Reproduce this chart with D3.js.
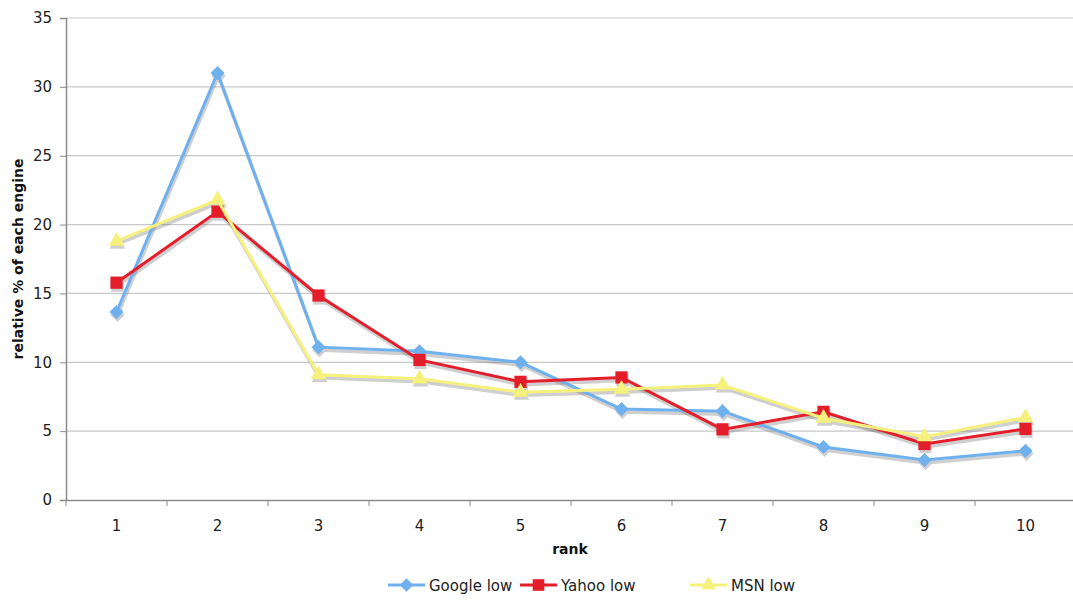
<!DOCTYPE html>
<html><head><meta charset="utf-8">
<script src="https://cdn.jsdelivr.net/npm/d3@7"></script>
<style>body{margin:0;background:#fff;} text{font-family:"DejaVu Sans",Verdana,sans-serif;}</style>
</head><body>
<svg id="c" width="1073" height="601"></svg>
<script>
const ranks = [1,2,3,4,5,6,7,8,9,10];
const googleLow = [13.65, 31.0, 11.1, 10.8, 10.0, 6.6, 6.45, 3.85, 2.9, 3.57];
const yahooLow  = [15.78, 20.94, 14.85, 10.17, 8.58, 8.9, 5.13, 6.4, 4.07, 5.16];
const msnLow    = [18.8, 21.8, 9.1, 8.8, 7.83, 8.05, 8.35, 5.94, 4.6, 6.0];
const yTicks = [0,5,10,15,20,25,30,35];
const seriesNames = ["Google low","Yahoo low","MSN low"];

const svg = d3.select("#c");
const L = 66, R = 1076, T = 18, B = 500;
const x = d3.scaleBand().domain(ranks).range([L, R]);
const y = d3.scaleLinear().domain([0,35]).range([B, T]);

// grid
svg.append("g").selectAll("line").data(yTicks.filter(d=>d>0)).join("line")
  .attr("x1", L).attr("x2", R).attr("y1", d=>y(d)).attr("y2", d=>y(d))
  .attr("stroke", "#c8c8c8").attr("stroke-width", 1.2);

// y axis
const ya = svg.append("g").attr("transform", `translate(${L},0)`)
  .call(d3.axisLeft(y).tickValues(yTicks).tickSize(6).tickPadding(8));
ya.select(".domain").attr("stroke", "#8a8a8a").attr("stroke-width", 1.5);
ya.selectAll(".tick line").attr("stroke", "#8a8a8a");
ya.selectAll("text").attr("font-size", 15).attr("fill", "#222");

// x axis
const xa = svg.append("g").attr("transform", `translate(0,${B})`)
  .call(d3.axisBottom(x).tickSize(0).tickPadding(20));
xa.select(".domain").attr("stroke", "#8a8a8a").attr("stroke-width", 1.5);
xa.selectAll("text").attr("font-size", 15).attr("fill", "#222");
svg.append("g").selectAll("line").data(ranks).join("line")
  .attr("x1", d=>x(d)).attr("x2", d=>x(d)).attr("y1", B).attr("y2", B+6)
  .attr("stroke", "#8a8a8a");

// titles
svg.append("text").attr("x", 570).attr("y", 554).attr("text-anchor","middle")
  .attr("font-size", 14).attr("font-weight","bold").attr("fill","#111").text("rank");
svg.append("text").attr("transform","translate(23,259) rotate(-90)").attr("text-anchor","middle")
  .attr("font-size", 14).attr("font-weight","bold").attr("fill","#111").text("relative % of each engine");

const diamond = {draw(ctx, size){ const r = Math.sqrt(size/2); ctx.moveTo(0,-r); ctx.lineTo(r,0); ctx.lineTo(0,r); ctx.lineTo(-r,0); ctx.closePath(); }};
const series = [
  {name: seriesNames[0], vals: googleLow, color: "#6fb0ef", marker: diamond, size: 100},
  {name: seriesNames[1], vals: yahooLow, color: "#e41d2b", marker: d3.symbolSquare, size: 150},
  {name: seriesNames[2], vals: msnLow, color: "#f6f07c", marker: d3.symbolTriangle, size: 110}
];
const cx = d => x(d) + x.bandwidth()/2;
const line = d3.line().x((d,i)=>cx(ranks[i])).y(d=>y(d));

series.forEach(s => {
  const g = svg.append("g").attr("transform","translate(1,3)").attr("opacity",0.35);
  g.append("path").attr("d", line(s.vals)).attr("fill","none").attr("stroke","#777").attr("stroke-width",3.5);
  g.selectAll("path.m").data(s.vals).join("path").attr("class","m")
    .attr("transform",(d,i)=>`translate(${cx(ranks[i])},${y(d)})`)
    .attr("d", d3.symbol().type(s.marker).size(s.size)).attr("fill","#777");
});
series.forEach(s => {
  svg.append("path").attr("d", line(s.vals)).attr("fill","none").attr("stroke", s.color).attr("stroke-width",3);
  svg.append("g").selectAll("path").data(s.vals).join("path")
    .attr("transform",(d,i)=>`translate(${cx(ranks[i])},${y(d)})`)
    .attr("d", d3.symbol().type(s.marker).size(s.size)).attr("fill", s.color);
});

// legend
const lx = [388, 520, 690];
series.forEach((s,i) => {
  const g = svg.append("g").attr("transform", `translate(${lx[i]},585)`);
  g.append("line").attr("x1",0).attr("x2",37).attr("stroke",s.color).attr("stroke-width",3);
  g.append("path").attr("transform","translate(18.5,0)").attr("d", d3.symbol().type(s.marker).size(s.size*0.9)).attr("fill", s.color);
  g.append("text").attr("x",41).attr("y",5.5).attr("font-size",15).attr("fill","#222").text(s.name);
});
</script>
</body></html>
